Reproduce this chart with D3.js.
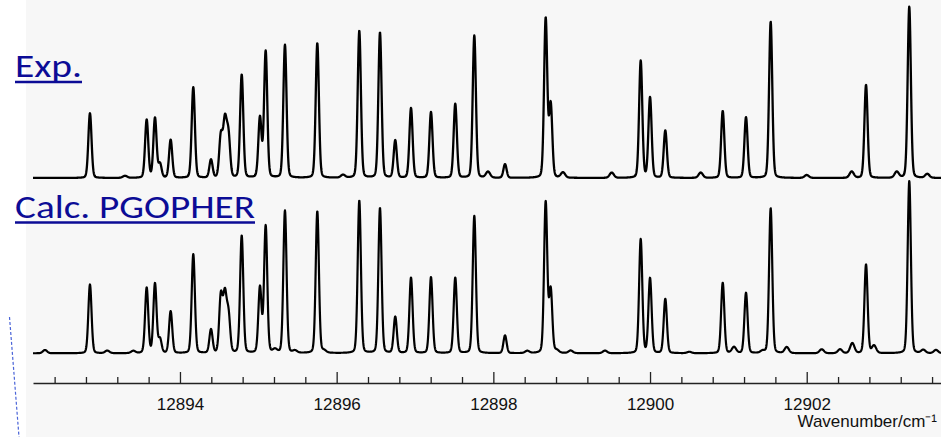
<!DOCTYPE html>
<html>
<head>
<meta charset="utf-8">
<script src="https://cdn.jsdelivr.net/npm/d3@7"></script>
<style>
  html, body { margin: 0; padding: 0; background: #fff; overflow: hidden; }
  svg { display: block; }
</style>
</head>
<body>
<svg></svg>
<script>
// line centres (cm-1), same assignment for both traces
var lineCentres = [
  12892.851, 12893.575, 12893.681, 12893.745, 12893.881, 12894.170, 12894.396,
  12894.520, 12894.548, 12894.574, 12894.602, 12894.623,
  12894.788, 12895.021, 12895.094, 12895.340, 12895.753, 12896.289, 12896.553,
  12896.748, 12896.949, 12897.204, 12897.514, 12897.757, 12898.149, 12898.668,
  12898.732, 12899.881, 12900.000, 12900.195, 12900.928, 12901.225, 12901.540,
  12902.757, 12903.309
];

// relative intensities (%), experiment
var expIntensity = [
  37.8, 33.9, 34.9, 8.0, 22.2, 52.9, 10.5,
  22.2, 7.0, 27.4, 10.5, 18.7,
  60.1, 34.9, 73.7, 77.6, 78.6, 85.8, 84.8,
  21.8, 40.7, 38.4, 43.2, 83.1, 8.0, 92.8,
  42.5, 68.3, 46.9, 27.6, 39.1, 35.4, 91.2,
  54.3, 100
];

// relative intensities (%), PGOPHER simulation
var calcIntensity = [
  39.9, 37.9, 40.3, 8.0, 24.3, 57.4, 13.6,
  30.4, 8.2, 28.0, 8.2, 17.5,
  68.1, 37.9, 73.6, 82.7, 82.3, 88.5, 84.2,
  21.0, 43.8, 44.1, 43.8, 79.7, 10.3, 87.6,
  36.5, 66.1, 43.4, 31.5, 40.9, 35.0, 84.1,
  51.5, 100
];

// weak features
var expWeakCentres = [12893.298, 12896.081, 12897.932, 12898.889, 12899.511, 12900.647, 12902.000, 12902.574, 12903.149, 12903.539];
var expWeakIntensity = [1.2, 1.7, 3.5, 3.1, 3.1, 3.1, 1.7, 3.7, 3.5, 2.3];

var calcWeakCentres = [12892.277, 12893.072, 12893.404, 12895.213, 12895.468, 12895.838, 12898.433, 12898.809, 12898.987, 12899.425,
  12900.501, 12901.072, 12901.438, 12901.745, 12902.191, 12902.425, 12902.582, 12902.859, 12903.488, 12903.650];
var calcWeakIntensity = [1.9, 1.5, 1.3, 1.9, 1.3, 1.3, 1.3, 1.5, 1.5, 1.5, 0.8, 3.5, 1.2, 3.5, 2.3, 2.3, 5.8, 4.3, 1.9, 1.9];

var majorTicks = [12894, 12896, 12898, 12900, 12902];
var xExtent = [12892.124, 12903.714];
var traceLabels = ['Exp.', 'Calc. PGOPHER'];
var axisTitle = 'Wavenumber/cm\u207B\u00B9';

var width = 941, height = 437;
var fwhm = 0.048;

var svg = d3.select('svg').attr('width', width).attr('height', height);

svg.append('rect')
  .attr('x', 26).attr('y', 0)
  .attr('width', width - 26).attr('height', height)
  .attr('fill', '#f7f7f7');

var x = d3.scaleLinear().domain(xExtent).range([33, 941]);
var yExp = d3.scaleLinear().domain([0, 100]).range([178, 6.7]);
var yCalc = d3.scaleLinear().domain([0, 100]).range([353.3, 181]);

// pseudo-Voigt line shape
function shape(d) {
  var g = Math.exp(-4 * Math.LN2 * d * d / (fwhm * fwhm));
  var l = 1 / (1 + 4 * d * d / (fwhm * fwhm));
  return 0.85 * g + 0.15 * l;
}

function spectrum(centres, ints, weakC, weakI) {
  var step = (xExtent[1] - xExtent[0]) / 4000;
  return d3.range(xExtent[0], xExtent[1] + step / 2, step).map(function(v) {
    var s = 0;
    centres.forEach(function(c, i) { s += ints[i] * shape(v - c); });
    weakC.forEach(function(c, i) { s += weakI[i] * shape((v - c) * 0.75); });
    return {v: v, s: s};
  });
}

var expLine = d3.line().x(function(d) { return x(d.v); }).y(function(d) { return yExp(d.s); });
var calcLine = d3.line().x(function(d) { return x(d.v); }).y(function(d) { return yCalc(d.s); });

svg.append('path')
  .datum(spectrum(lineCentres, expIntensity, expWeakCentres, expWeakIntensity))
  .attr('d', expLine)
  .attr('fill', 'none')
  .attr('stroke', '#000')
  .attr('stroke-width', 2.3)
  .attr('stroke-linejoin', 'round');

svg.append('path')
  .datum(spectrum(lineCentres, calcIntensity, calcWeakCentres, calcWeakIntensity))
  .attr('d', calcLine)
  .attr('fill', 'none')
  .attr('stroke', '#000')
  .attr('stroke-width', 2.2)
  .attr('stroke-linejoin', 'round');

// axes
var axisY = 383;
var minorTicks = d3.range(12892.4, 12903.7, 0.4).filter(function(t) {
  return majorTicks.every(function(m) { return Math.abs(m - t) > 0.05; });
});

var minorAxis = svg.append('g')
  .attr('transform', 'translate(0,' + axisY + ')')
  .call(d3.axisBottom(x).tickValues(minorTicks).tickSize(-6).tickSizeOuter(0).tickFormat(''));
minorAxis.select('.domain').attr('stroke', '#222').attr('stroke-width', 1.6);
minorAxis.selectAll('.tick line').attr('stroke', '#222').attr('stroke-width', 1.3);

var majorAxis = svg.append('g')
  .attr('transform', 'translate(0,' + axisY + ')')
  .call(d3.axisBottom(x).tickValues(majorTicks).tickSize(-11).tickSizeOuter(0).tickPadding(15).tickFormat(d3.format('d')));
majorAxis.select('.domain').remove();
majorAxis.selectAll('.tick line').attr('stroke', '#222').attr('stroke-width', 1.3);
majorAxis.selectAll('.tick text')
  .attr('fill', '#111')
  .style('font-family', '"Liberation Sans", Arial, sans-serif')
  .style('font-size', '17px');

svg.append('text')
  .attr('x', 937).attr('y', 427)
  .attr('text-anchor', 'end')
  .attr('fill', '#111')
  .style('font-family', '"Liberation Sans", Arial, sans-serif')
  .style('font-size', '17px')
  .text(axisTitle);

// trace labels
var labelPos = [{y: 77, w: 67, u: 82}, {y: 218, w: 240, u: 222.5}];
traceLabels.forEach(function(t, i) {
  var p = labelPos[i];
  svg.append('text')
    .attr('x', 15).attr('y', p.y)
    .attr('fill', '#0c0c96')
    .attr('textLength', p.w)
    .attr('lengthAdjust', 'spacingAndGlyphs')
    .style('font-family', 'Carlito, Lato, sans-serif')
    .style('font-size', '32px')
    .text(t);
  svg.append('line')
    .attr('x1', 15).attr('x2', 15 + p.w)
    .attr('y1', p.u).attr('y2', p.u)
    .attr('stroke', '#0c0c96')
    .attr('stroke-width', 2.5);
});

// dashed connector on the left
svg.append('line')
  .attr('x1', 9.5).attr('y1', 317)
  .attr('x2', 19).attr('y2', 437)
  .attr('stroke', '#4a64d8')
  .attr('stroke-width', 1.2)
  .attr('stroke-dasharray', '3,2');
</script>
</body>
</html>
